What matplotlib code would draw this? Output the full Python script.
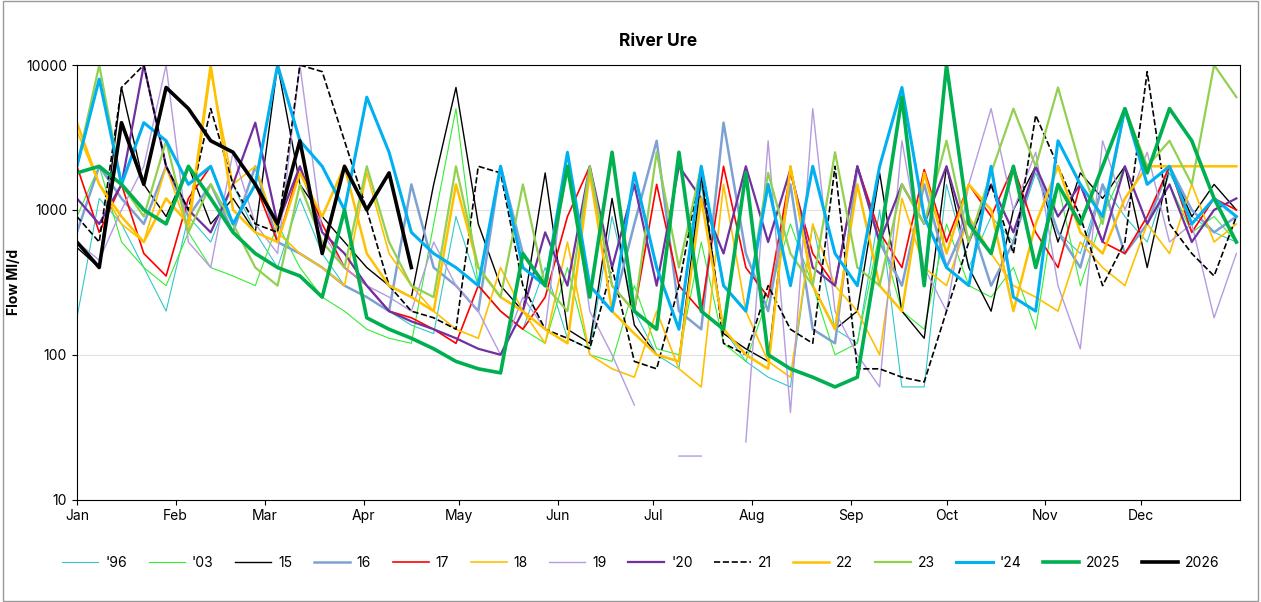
import numpy as np
import matplotlib.pyplot as plt

plt.rcParams['font.family'] = ['Inter', 'DejaVu Sans']

# weekly readings (day of year 0, 7, 14, ...)
days = np.arange(0, 365, 7)

s96 = [180, 1200, 800, 400, 200, 900, 600, 1500, 700, 400, 1200, 500, 300, 250, 200, 160, 140, 900, 300, 200, 150,
       400, 130, 110, 900, 200, 100, 80, 1500, 150, 90, 70, 60, 800, 150, 120, 1000, 60, 60, 1500, 400, 900, 600, 1800,
       700, 500, 1500, 900, 600, 1800, 900, 700, 600]
s03 = [900, 2000, 600, 400, 300, 700, 400, 350, 300, 800, 400, 250, 200, 150, 130, 120, 800, 5000, 300, 200, 150,
       120, 400, 100, 90, 300, 110, 100, 600, 120, 90, 250, 800, 300, 100, 120, 700, 200, 150, 800, 300, 250, 400, 150,
       1500, 300, 900, 2000, 800, 1500, 700, 900, 600]
s15 = [550, 400, 7000, 1500, 900, 2000, 800, 1200, 700, 10000, 1500, 900, 600, 400, 300, 250, 1500, 7000, 800, 300,
       200, 1800, 150, 120, 1200, 160, 100, 90, 1700, 140, 110, 90, 2000, 300, 150, 200, 1800, 200, 130, 2000, 400,
       200, 1000, 2000, 600, 1800, 1200, 2000, 400, 2000, 900, 1500, 1000]
s16 = [700, 2000, 1200, 800, 2000, 900, 1500, 700, 2000, 600, 500, 400, 300, 250, 200, 1500, 400, 300, 200, 2000,
       500, 300, 2000, 300, 200, 800, 3000, 200, 150, 4000, 500, 200, 1500, 150, 120, 2000, 600, 300, 1500, 400, 900,
       300, 600, 2000, 700, 400, 1500, 500, 800, 2000, 1000, 700, 900]
s17 = [2000, 700, 1500, 500, 350, 1200, 2000, 800, 1500, 600, 2000, 800, 400, 300, 200, 180, 150, 120, 300, 200,
       150, 250, 900, 2000, 300, 200, 1500, 300, 200, 2000, 400, 250, 1800, 500, 300, 2000, 700, 400, 1900, 600, 1500,
       900, 2000, 700, 400, 1500, 600, 500, 900, 2000, 700, 1200, 1000]
s18 = [3500, 1500, 800, 600, 2000, 700, 9000, 1500, 2000, 700, 500, 400, 300, 1800, 500, 300, 200, 150, 130, 400,
       200, 120, 600, 100, 80, 70, 200, 80, 60, 1500, 200, 90, 70, 800, 300, 200, 100, 1200, 400, 300, 900, 500, 300,
       250, 200, 600, 400, 300, 800, 500, 1500, 600, 800]
s19 = [600, 450, 1000, 2000, 10000, 600, 400, 2500, 800, 500, 10000, 700, 400, 300, 250, 200, 600, 300, 200, 100,
       250, 150, 2500, 200, 100, 45, np.nan, 20, 20, np.nan, 25, 3000, 40, 5000, 200, 100, 60, 3000, 400, 200, 1500,
       5000, 1000, 2500, 300, 110, 3000, 1000, 2500, 600, 800, 180, 500]
s20 = [1200, 800, 1500, 10000, 2000, 1000, 700, 1500, 4000, 800, 2000, 700, 500, 300, 200, 170, 150, 130, 110, 100,
       200, 700, 300, 2000, 400, 1500, 300, 2000, 1200, 500, 2000, 600, 1900, 400, 300, 2000, 600, 1500, 800, 2000,
       600, 1500, 700, 2000, 900, 1500, 600, 2000, 800, 1500, 600, 1000, 1200]
s21 = [900, 600, 7000, 10000, 2000, 1000, 5000, 1500, 800, 700, 10000, 9000, 3000, 1000, 300, 200, 180, 150, 2000,
       1800, 300, 150, 130, 110, 400, 90, 80, 300, 2000, 120, 100, 300, 150, 120, 2000, 80, 80, 70, 65, 200, 600,
       1500, 500, 4500, 2000, 900, 300, 600, 9000, 800, 500, 350, 900]
s22 = [4000, 1500, 900, 600, 1200, 800, 10000, 1000, 700, 600, 1800, 900, 2000, 500, 300, 250, 200, 1500, 400, 250,
       200, 150, 120, 1800, 200, 140, 100, 90, 1200, 150, 100, 80, 2000, 300, 150, 1500, 300, 200, 1800, 500, 1500,
       1000, 200, 800, 2000, 700, 500, 1200, 2000, 2000, 2000, 2000, 2000]
s23 = [2000, 10000, 1500, 900, 3000, 700, 1500, 800, 400, 300, 1500, 600, 400, 2000, 600, 300, 250, 2000, 400, 250,
       1500, 300, 200, 2000, 300, 200, 2500, 400, 2000, 300, 200, 1800, 500, 300, 2500, 400, 300, 1500, 800, 3000, 600,
       1800, 5000, 2000, 7000, 2000, 800, 5000, 2000, 3000, 1500, 10000, 6000]
s24 = [2000, 8000, 1500, 4000, 3000, 1500, 2000, 800, 1500, 10000, 3000, 2000, 1000, 6000, 2500, 700, 500, 400, 300,
       2000, 400, 300, 2500, 300, 200, 1800, 400, 150, 2000, 300, 200, 1500, 300, 2000, 500, 300, 2000, 7000, 900, 400,
       300, 2000, 250, 200, 3000, 1500, 900, 5000, 1500, 2000, 800, 1200, 900]
s25 = [1800, 2000, 1500, 1000, 800, 2000, 1200, 700, 500, 400, 350, 250, 1000, 180, 150, 130, 110, 90, 80, 75, 500,
       300, 2000, 250, 2500, 200, 150, 2500, 200, 150, 1800, 100, 80, 70, 60, 70, 600, 6000, 300, 10000, 800, 500,
       2000, 400, 1500, 800, 2000, 5000, 1800, 5000, 3000, 1200, 600]
s26 = [600, 400, 4000, 1500, 7000, 5000, 3000, 2500, 1500, 800, 3000, 500, 2000, 1000, 1800, 400]

series = [
    ("'96", s96, '#33c7c7', 0.8, '-'),
    ("'03", s03, '#33ee33', 0.8, '-'),
    ('15', s15, 'black', 1.0, '-'),
    ('16', s16, '#7ea1d3', 1.8, '-'),
    ('17', s17, '#ff0000', 1.2, '-'),
    ('18', s18, '#ffc000', 1.2, '-'),
    ('19', s19, '#b59be0', 1.0, '-'),
    ("'20", s20, '#7030a0', 1.6, '-'),
    ('21', s21, 'black', 1.2, '--'),
    ('22', s22, '#ffc000', 1.8, '-'),
    ('23', s23, '#92d050', 1.6, '-'),
    ("'24", s24, '#00b0f0', 2.2, '-'),
    ('2025', s25, '#00b050', 2.6, '-'),
    ('2026', s26, 'black', 2.6, '-'),
]

month_days = [0, 31, 59, 90, 120, 151, 181, 212, 243, 273, 304, 334]
month_labels = ['Jan', 'Feb', 'Mar', 'Apr', 'May', 'Jun', 'Jul', 'Aug', 'Sep', 'Oct', 'Nov', 'Dec']

fig = plt.figure(figsize=(12.61, 6.02), dpi=100)
ax = fig.add_axes([0.061, 0.17, 0.922, 0.722])
for name, vals, col, lw, ls in series:
    ax.plot(days[:len(vals)], vals, color=col, lw=lw, ls=ls, label=name)

ax.set_yscale('log')
ax.set_ylim(10, 10000)
ax.set_xlim(0, 365)
ax.set_yticks([10, 100, 1000, 10000])
ax.set_yticklabels(['10', '100', '1000', '10000'])
ax.minorticks_off()
ax.set_xticks(month_days)
ax.set_xticklabels(month_labels)
ax.grid(axis='y', color='#e0e0e0', lw=0.8)
ax.set_axisbelow(True)
ax.tick_params(labelsize=10)
ax.set_ylabel('Flow Ml/d', fontsize=10, fontweight='bold')
ax.set_title('River Ure', fontsize=12.5, fontweight='bold', pad=14)
ax.legend(loc='upper center', bbox_to_anchor=(0.485, -0.1), ncol=14, frameon=False,
          fontsize=10, handlelength=2.6, handletextpad=0.5, columnspacing=1.55)
fig.patches.append(plt.Rectangle((0.002, 0.002), 0.996, 0.996, transform=fig.transFigure,
                                 fill=False, edgecolor='#999999', lw=1))
fig.savefig('out.png')
